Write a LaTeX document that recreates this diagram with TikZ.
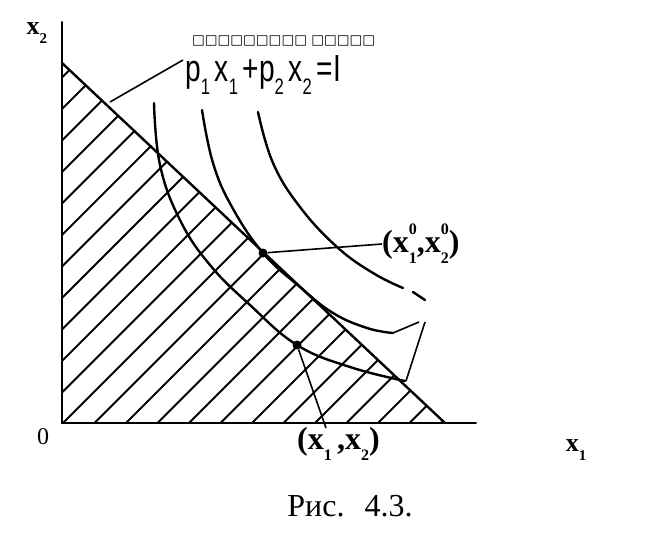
\documentclass[tikz,border=0pt]{standalone}
\usepackage{fontspec}
\setmainfont{Liberation Serif}
\newfontfamily\formfont{Liberation Sans}
\newfontfamily\boxfont{DejaVu Sans}
\usetikzlibrary{positioning}
% small lowered / raised indices in text fonts
\newcommand{\lo}[2]{\raisebox{-0.35em}{\fontsize{#1}{#1}\selectfont #2}}
\newcommand{\hilo}[3]{\rlap{\raisebox{0.55em}{\fontsize{#1}{#1}\selectfont #2}}\raisebox{-0.35em}{\fontsize{#1}{#1}\selectfont #3}}

\begin{document}
\begin{tikzpicture}[x=1pt, y=-1pt,
    axis/.style={line width=2pt, line cap=round},
    hatch/.style={line width=1.8pt},
    curve/.style={line width=2.4pt, line cap=round},
    leader/.style={line width=1.6pt},
    dot/.style={circle, fill, inner sep=0pt, minimum size=9pt},
    lbl/.style={inner sep=0pt, font=\fontsize{26}{28}\selectfont\bfseries}]
  \useasboundingbox (0,0) rectangle (654,536);

  % axes and budget triangle
  \coordinate (o) at (62,423);
  \coordinate (ytop) at (62,22);
  \coordinate (xend) at (476,423);
  \coordinate (bA) at (62,63);
  \coordinate (bB) at (445,423);
  \begin{scope}
    \clip (o) -- (bA) -- (bB) -- cycle;
    \foreach \k in {-12,...,12}
      \draw[hatch] (63+31.5*\k,423) -- ++(420,-420);
  \end{scope}
  \draw[axis] (ytop) -- (o) -- (xend);
  \draw[curve] (bA) -- (bB);

  % indifference curves
  \draw[curve] plot[smooth, tension=0.7] coordinates {(154,103) (160,165)
    (180,220) (210,265) (250,305) (297,345) (350,367) (405,381)};
  \draw[curve] plot[smooth, tension=0.7] coordinates {(202,110) (213,163)
    (232,207) (263,253) (300,287) (333,313) (367,328) (393,333)};
  \draw[curve] plot[smooth, tension=0.7] coordinates {(258,112) (273,163)
    (300,207) (337,247) (373,273) (403,288)};
  \draw[curve] (413,292) -- (425,300);

  \node[dot] (opt) at (263,253) {};
  \node[dot] (pt) at (297,345) {};
  \coordinate (bl) at (110,102);
  \coordinate (endB) at (393,333);
  \coordinate (endA) at (406,381);
  \coordinate (tipB) at (419,322);
  \coordinate (tipA) at (425,322);

  % labels
  \node[lbl] (lx2) at (37,33) {x\lo{15}{2}};
  \node[lbl] (lx1) at (576,450) {x\lo{15}{1}};
  \node[inner sep=0pt, font=\fontsize{24}{26}\selectfont] (lo) at (43,437) {0};
  \node[inner sep=0pt, anchor=west, font=\boxfont\fontsize{13.5}{14}\selectfont]
    (lname) at (192,41) {□□□□□□□□□ □□□□□};
  \node[inner sep=0pt, anchor=west, font=\formfont\fontsize{27}{28}\selectfont]
    (lline) at (185,75) {\scalebox{1.04}[1.4]{p\lo{16}{1}\,x\lo{16}{1}\,+p\lo{16}{2}\,x\lo{16}{2}\,=I}};
  \node[lbl, anchor=west, font=\fontsize{32}{34}\selectfont\bfseries]
    (lopt) at (382,244) {(x\hilo{16}{0}{1},x\hilo{16}{0}{2})};
  \node[lbl, anchor=north west, font=\fontsize{32}{34}\selectfont\bfseries]
    (lpt) at (297,427) {(x\lo{16}{1}\,,x\lo{16}{2})};
  \node[inner sep=0pt, font=\fontsize{32}{34}\selectfont] (cap) at (350,506)
    {Рис.\hspace{20pt}4.3.};

  % leader lines
  \draw[leader] (bl) -- (183,60);
  \draw[leader] (opt) -- (lopt.west);
  \draw[leader] (pt) -- (326,428);
  \draw[leader] (endB) -- (tipB);
  \draw[leader] (endA) -- (tipA);
\end{tikzpicture}
\end{document}
